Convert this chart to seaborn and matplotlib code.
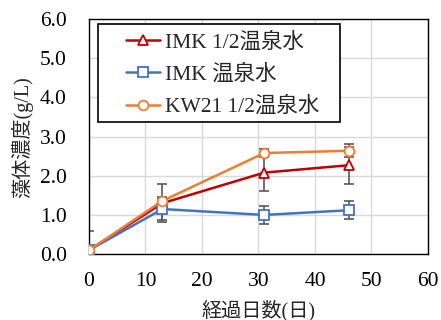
import matplotlib
matplotlib.use("Agg")
import matplotlib.pyplot as plt
from matplotlib.patches import Rectangle
import seaborn as sns
import pandas as pd
import numpy as np

days = [0, 13, 31, 46]
series_names = ["IMK 1/2温泉水", "IMK 温泉水", "KW21 1/2温泉水"]
imk_half = [0.10, 1.30, 2.08, 2.27]
imk_half_err = [0.50, 0.48, 0.48, 0.47]
imk_full = [0.10, 1.15, 1.00, 1.12]
imk_full_err = [0.05, 0.28, 0.24, 0.23]
kw21_half = [0.10, 1.36, 2.58, 2.64]
kw21_half_err = [0.05, 0.10, 0.10, 0.16]
colors = ["#C00000", "#4472C4", "#ED7D31"]
markers = ["^", "s", "o"]

sns.set_theme(style="white")
plt.rcParams['font.family'] = ['Liberation Serif', 'Noto Sans CJK JP', 'DejaVu Sans']

vals = [imk_half, imk_full, kw21_half]
errs = [imk_half_err, imk_full_err, kw21_half_err]

fig = plt.figure(figsize=(4.41, 3.2), dpi=100)
ax = fig.add_axes([0.2018, 0.206, 0.7687, 0.734])

handles = []
for name, v, e, c, m in zip(series_names, vals, errs, colors, markers):
    ax.errorbar(days, v, yerr=e, fmt="none", ecolor="#595959", elinewidth=1.2,
                capsize=3.5, capthick=1.2, zorder=2)
    d = pd.DataFrame({"day": days, "conc": v})
    n_before = len(ax.lines)
    sns.lineplot(data=d, x="day", y="conc", ax=ax, color=c, linewidth=1.8,
                 label=name, legend=False)
    ln = ax.lines[n_before]
    ln.set_marker(m)
    ln.set_markersize(7)
    ln.set_markerfacecolor("white")
    ln.set_markeredgecolor(c)
    ln.set_markeredgewidth(1.3)
    ln.set_zorder(3)
    handles.append(ln)

ax.set_xlim(0, 60)
ax.set_ylim(0, 6)
ax.set_xticks(np.arange(0, 61, 10))
ax.set_yticks(np.arange(0, 6.1, 1.0))
ax.set_yticklabels([f"{t:.1f}" for t in np.arange(0, 6.1, 1.0)])
ax.grid(True, color="#D9D9D9", linewidth=1.0)
ax.set_axisbelow(True)
for s in ax.spines.values():
    s.set_color("black")
    s.set_linewidth(1.0)
ax.tick_params(axis="x", labelsize=15.5, colors="black", length=0, pad=13)
ax.tick_params(axis="y", labelsize=15.5, colors="black", length=0, pad=16)
ax.set_xlabel("経過日数(日)", fontsize=14.5, labelpad=6)
ax.set_ylabel("藻体濃度(g/L)", fontsize=14.5, labelpad=5)

# legend frame (pixel box) and entries
W, H = 441, 320
x0, y0, x1, y1 = 98, 24, 340, 122
rect = Rectangle((x0 / W, 1 - y1 / H), (x1 - x0) / W, (y1 - y0) / H,
                 transform=fig.transFigure, facecolor="white",
                 edgecolor="black", linewidth=1.2, zorder=5, clip_on=False)
ax.add_patch(rect)
leg = ax.legend(handles, series_names, loc="upper left",
                bbox_to_anchor=((126 - 89) / 339, (254 - 32) / 235),
                frameon=False, fontsize=15.5, handlelength=1.6, handletextpad=0.2,
                borderpad=0.0, labelspacing=0.55, borderaxespad=0)
leg.set_zorder(6)

fig.savefig("out.png", dpi=100)
